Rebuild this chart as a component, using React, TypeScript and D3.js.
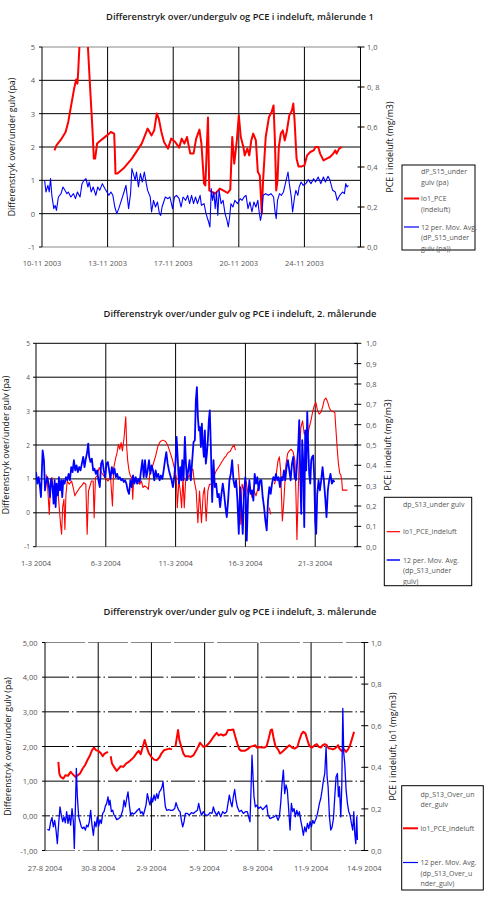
import * as d3 from "d3";
import React from "react";

type Pt = [number, number | null];

const FONT = "'Open Sans', 'DejaVu Sans', sans-serif";
const RED = "#ff0000";
const BLUE = "#0000ff";

// x positions are in "label intervals": 0 = first date label, 1 = second, ...

// ---- målerunde 1 ----
const r1Labels = ["10-11 2003", "13-11 2003", "17-11 2003", "20-11 2003", "24-11 2003"];
const r1RightTicks = [0, 0.2, 0.4, 0.6, 0.8, 1.0];
const r1RightText = ["0,0", "0,2", "0,4", "0,6", "0, 8", "1,0"];
// lo1_PCE (mg/m3)
const r1Pce: Pt[] = [
  [0.19, 0.483], [0.22, 0.508], [0.3, 0.542], [0.36, 0.575], [0.4, 0.625], [0.44, 0.7],
  [0.49, 0.792], [0.52, 0.837], [0.54, 0.817], [0.55, 0.867], [0.57, 1.0], [0.63, 1.15],
  [0.7, 1.0], [0.73, 0.817], [0.77, 0.583], [0.79, 0.442], [0.81, 0.442], [0.84, 0.517],
  [0.91, 0.537], [0.99, 0.558], [1.05, 0.575], [1.1, 0.567], [1.11, 0.483], [1.12, 0.367],
  [1.15, 0.367], [1.24, 0.392], [1.37, 0.442], [1.52, 0.517], [1.61, 0.592], [1.67, 0.558],
  [1.71, 0.583], [1.75, 0.667], [1.78, 0.642], [1.82, 0.575], [1.86, 0.525], [1.92, 0.492],
  [1.97, 0.542], [2.03, 0.525], [2.09, 0.497], [2.13, 0.542], [2.17, 0.517], [2.21, 0.55],
  [2.26, 0.467], [2.31, 0.467], [2.35, 0.542], [2.4, 0.587], [2.43, 0.517], [2.47, 0.317],
  [2.49, 0.308], [2.53, 0.647], [2.55, 0.283], [2.59, 0.275], [2.64, 0.267], [2.68, 0.28],
  [2.71, 0.292], [2.76, 0.283], [2.83, 0.27], [2.87, 0.287], [2.9, 0.55], [2.93, 0.417],
  [2.97, 0.533], [3.0, 0.658], [3.03, 0.55], [3.07, 0.5], [3.09, 0.458], [3.13, 0.492],
  [3.16, 0.458], [3.19, 0.533], [3.22, 0.567], [3.26, 0.533], [3.29, 0.375], [3.32, 0.358],
  [3.35, 0.167], [3.37, 0.333], [3.41, 0.55], [3.46, 0.65], [3.5, 0.675], [3.53, 0.708],
  [3.55, 0.533], [3.57, 0.283], [3.59, 0.333], [3.61, 0.5], [3.64, 0.567], [3.67, 0.583],
  [3.7, 0.533], [3.73, 0.575], [3.77, 0.658], [3.81, 0.683], [3.83, 0.717], [3.85, 0.633],
  [3.88, 0.442], [3.91, 0.403], [3.96, 0.403], [4.0, 0.408], [4.04, 0.458], [4.09, 0.475],
  [4.14, 0.483], [4.17, 0.5], [4.21, 0.5], [4.24, 0.467], [4.29, 0.433], [4.34, 0.442],
  [4.39, 0.45], [4.44, 0.467], [4.47, 0.483], [4.49, 0.467], [4.53, 0.492], [4.57, 0.5],
];
// 12 per. mov. avg. dP_S15 (pa)
const r1Dp: Pt[] = [
  [0.04, 1.0], [0.06, 0.65], [0.09, 0.85], [0.11, 0.65], [0.13, 1.05], [0.15, 0.55], [0.18, 0.15],
  [0.2, 0.25], [0.22, 0.1], [0.25, 0.5], [0.29, 0.6], [0.32, 0.8], [0.35, 0.7], [0.38, 0.6],
  [0.4, 0.65], [0.44, 0.5], [0.48, 0.6], [0.51, 0.45], [0.54, 0.65], [0.58, 0.5], [0.61, 0.9],
  [0.64, 1.0], [0.67, 1.05], [0.7, 0.8], [0.72, 0.95], [0.75, 0.65], [0.78, 0.8], [0.82, 0.55],
  [0.85, 0.8], [0.88, 0.7], [0.92, 0.9], [0.96, 0.75], [0.99, 0.65], [1.02, 0.55], [1.05, 0.65],
  [1.08, 0.55], [1.11, 0.2], [1.14, 0.0], [1.17, 0.15], [1.21, 0.4], [1.25, 0.65], [1.28, 0.85],
  [1.3, 0.5], [1.32, 0.15], [1.35, 0.6], [1.37, 1.35], [1.4, 1.15], [1.42, 1.0], [1.44, 1.25],
  [1.47, 0.8], [1.5, 1.2], [1.53, 0.95], [1.56, 1.25], [1.59, 0.9], [1.61, 0.7], [1.65, 0.5],
  [1.67, 0.05], [1.7, 0.4], [1.73, 0.2], [1.76, 0.35], [1.79, 0.0], [1.81, -0.05], [1.83, 0.2],
  [1.88, 0.5], [1.92, 0.45], [1.95, 0.5], [1.99, 0.15], [2.02, 0.5], [2.05, 0.55], [2.09, 0.45],
  [2.12, 0.2], [2.15, 0.5], [2.19, 0.4], [2.22, 0.55], [2.25, 0.3], [2.28, 0.55], [2.31, 0.3],
  [2.34, 0.5], [2.37, 0.3], [2.41, 0.55], [2.43, 0.25], [2.47, 0.3], [2.5, 0.0], [2.54, -0.25],
  [2.56, -0.4], [2.58, 0.75], [2.6, 0.4], [2.62, 0.65], [2.64, 0.15], [2.66, 0.65], [2.68, -0.05],
  [2.7, 0.7], [2.73, 0.3], [2.76, 0.4], [2.79, 0.0], [2.82, -0.2], [2.84, -0.4], [2.86, -0.1],
  [2.88, 0.3], [2.91, 0.2], [2.94, 0.4], [2.98, 0.3], [3.02, 0.45], [3.05, 0.4], [3.08, 0.5],
  [3.11, 0.55], [3.14, 0.15], [3.17, 0.35], [3.2, 0.05], [3.23, 0.35], [3.26, 0.2], [3.29, 0.4],
  [3.31, 0.05], [3.33, -0.2], [3.35, 0.0], [3.37, 0.55], [3.41, 0.6], [3.45, 0.55], [3.49, 0.6],
  [3.53, 0.5], [3.55, 0.1], [3.57, -0.15], [3.59, 0.4], [3.62, 0.6], [3.65, 0.55], [3.68, 0.65],
  [3.71, 0.9], [3.75, 1.25], [3.77, 0.9], [3.8, 0.5], [3.82, 0.05], [3.85, 0.5], [3.87, 0.7],
  [3.9, 0.55], [3.92, 0.8], [3.95, 0.95], [3.98, 0.85], [4.02, 0.9], [4.06, 1.02], [4.1, 0.9],
  [4.14, 1.05], [4.17, 0.95], [4.21, 1.1], [4.25, 0.9], [4.29, 1.1], [4.32, 0.95], [4.36, 1.12],
  [4.39, 1.0], [4.43, 0.7], [4.47, 0.65], [4.5, 0.4], [4.54, 0.55], [4.58, 0.65], [4.61, 0.6],
  [4.63, 0.9], [4.65, 0.8], [4.67, 0.85],
];

// ---- målerunde 2 ----
const r2Labels = ["1-3 2004", "6-3 2004", "11-3 2004", "16-3 2004", "21-3 2004"];
const r2RightTicks = [0, 0.1, 0.2, 0.3, 0.4, 0.5, 0.6, 0.7, 0.8, 0.9, 1.0];
const r2RightText = ["0,0", "0,1", "0,2", "0,3", "0,4", "0,5", "0,6", "0,7", "0,8", "0,9", "1,0"];
const r2Pce: Pt[] = [
  [0.143, 0.356], [0.162, 0.323], [0.19, 0.159], [0.21, 0.332], [0.229, 0.34], [0.248, 0.274],
  [0.271, 0.307], [0.295, 0.25], [0.314, 0.274], [0.333, 0.192], [0.352, 0.11], [0.367, 0.061],
  [0.381, 0.192], [0.4, 0.233], [0.414, 0.085], [0.429, 0.258], [0.448, 0.323], [0.476, 0.307],
  [0.51, 0.323], [0.533, 0.291], [0.557, 0.25], [0.581, 0.266], [0.629, 0.291], [0.652, 0.299],
  [0.686, 0.315], [0.714, 0.307], [0.733, 0.061], [0.752, 0.274], [0.795, 0.323], [0.819, 0.323],
  [0.833, 0.143], [0.852, 0.34], [0.876, 0.348], [0.905, 0.389], [0.938, 0.365], [0.986, 0.34],
  [1.033, 0.323], [1.067, 0.348], [1.095, 0.2], [1.114, 0.389], [1.143, 0.438], [1.162, 0.463],
  [1.181, 0.504], [1.2, 0.479], [1.219, 0.512], [1.238, 0.471], [1.262, 0.537], [1.286, 0.639],
  [1.3, 0.488], [1.314, 0.422], [1.333, 0.373], [1.352, 0.348], [1.371, 0.34], [1.386, 0.233],
  [1.4, 0.34], [1.429, 0.323], [1.462, 0.315], [1.486, 0.307], [1.51, 0.323], [1.533, 0.291],
  [1.557, 0.299], [1.59, 0.291], [1.61, 0.282], [1.629, 0.356], [1.657, 0.381], [1.686, 0.414],
  [1.714, 0.447], [1.748, 0.496], [1.781, 0.517], [1.819, 0.524], [1.857, 0.517], [1.89, 0.496],
  [1.914, 0.471], [1.952, 0.43], [1.986, 0.381], [2.01, 0.34], [2.024, 0.192], [2.048, 0.323],
  [2.067, 0.274], [2.086, 0.192], [2.105, 0.34], [2.124, 0.192], [2.143, 0.323], [2.162, 0.356],
  [2.19, 0.34], [2.224, 0.373], [2.248, 0.381], [2.267, 0.323], [2.295, 0.274], [2.319, 0.118],
  [2.343, 0.274], [2.371, 0.118], [2.395, 0.258], [2.414, 0.291], [2.438, 0.126], [2.462, 0.274],
  [2.486, 0.307], [2.51, 0.307], [2.543, 0.34], [2.581, 0.373], [2.619, 0.392], [2.657, 0.414],
  [2.695, 0.435], [2.724, 0.447], [2.752, 0.463], [2.781, 0.468], [2.81, 0.488], [2.838, 0.501],
  [2.857, 0.475], [2.876, null], [2.895, 0.406], [2.914, 0.323], [2.933, 0.11], [2.952, 0.307],
  [2.981, 0.274], [3.01, 0.323], [3.038, 0.258], [3.067, 0.291], [3.095, 0.241], [3.124, 0.274],
  [3.152, 0.25], [3.181, 0.291], [3.25, null], [3.343, 0.192], [3.362, 0.159], [3.39, null],
  [3.414, 0.307], [3.429, 0.323], [3.448, 0.373], [3.467, 0.422], [3.486, 0.442], [3.505, 0.373],
  [3.529, 0.126], [3.548, 0.209], [3.581, 0.406], [3.605, 0.458], [3.629, 0.471], [3.657, 0.479],
  [3.686, 0.463], [3.71, 0.422], [3.724, 0.258], [3.738, 0.036], [3.757, 0.274], [3.776, 0.488],
  [3.795, 0.586], [3.819, 0.619], [3.843, 0.553], [3.867, 0.57], [3.89, 0.537], [3.914, 0.586],
  [3.938, 0.619], [3.962, 0.66], [3.986, 0.693], [4.01, 0.709], [4.033, 0.668], [4.057, 0.652],
  [4.081, 0.66], [4.105, 0.685], [4.129, 0.721], [4.152, 0.731], [4.176, 0.714], [4.2, 0.685],
  [4.224, 0.668], [4.257, 0.665], [4.281, 0.66], [4.295, 0.586], [4.314, 0.488], [4.333, 0.406],
  [4.352, 0.36], [4.367, 0.353], [4.381, 0.323], [4.39, 0.278], [4.462, 0.278],
];
const r2Dp: Pt[] = [
  [0.0, 1.2], [0.019, 0.86], [0.038, 1.05], [0.057, 0.76], [0.071, 0.46], [0.086, 1.35],
  [0.095, 1.84], [0.114, 1.55], [0.129, 0.66], [0.143, 0.86], [0.162, 1.05], [0.181, 0.86],
  [0.2, 0.46], [0.219, 1.0], [0.238, 0.76], [0.252, 0.27], [0.267, 0.96], [0.281, 0.17],
  [0.295, 0.86], [0.314, 0.51], [0.329, 1.05], [0.343, 0.66], [0.362, 0.96], [0.376, 0.46],
  [0.39, 0.96], [0.41, 0.86], [0.429, 1.05], [0.448, 0.96], [0.467, 1.15], [0.486, 0.96],
  [0.505, 1.35], [0.524, 1.2], [0.543, 1.55], [0.562, 1.25], [0.581, 1.4], [0.6, 1.2],
  [0.619, 1.35], [0.638, 1.25], [0.657, 1.45], [0.676, 1.65], [0.695, 1.35], [0.714, 1.6],
  [0.733, 1.79], [0.748, 2.04], [0.762, 1.65], [0.781, 1.5], [0.8, 1.6], [0.819, 1.25],
  [0.838, 1.3], [0.857, 1.15], [0.876, 1.25], [0.895, 0.96], [0.914, 0.76], [0.933, 1.45],
  [0.952, 1.55], [0.971, 1.25], [0.99, 1.05], [1.01, 1.45], [1.029, 1.5], [1.048, 1.25],
  [1.067, 1.0], [1.086, 1.35], [1.105, 1.15], [1.124, 1.3], [1.143, 1.05], [1.162, 1.15],
  [1.181, 1.0], [1.2, 1.05], [1.219, 0.96], [1.238, 1.0], [1.257, 0.91], [1.276, 0.96],
  [1.295, 0.86], [1.314, 0.66], [1.333, 0.56], [1.352, 0.96], [1.371, 0.76], [1.39, 1.1],
  [1.41, 0.86], [1.429, 1.05], [1.448, 0.86], [1.467, 1.0], [1.486, 0.91], [1.505, 1.25],
  [1.524, 1.55], [1.543, 1.05], [1.562, 1.55], [1.581, 1.05], [1.6, 1.25], [1.619, 1.55],
  [1.638, 1.15], [1.657, 1.4], [1.676, 1.25], [1.695, 0.96], [1.714, 1.25], [1.733, 1.05],
  [1.752, 1.15], [1.771, 0.96], [1.79, 1.1], [1.81, 1.0], [1.829, 1.25], [1.848, 1.55],
  [1.867, 1.79], [1.886, 1.45], [1.905, 1.25], [1.924, 1.1], [1.943, 0.96], [1.962, 0.76],
  [1.981, 1.05], [2.0, 1.55], [2.014, 2.24], [2.029, 1.65], [2.048, 0.86], [2.067, 1.35],
  [2.081, 0.96], [2.095, 1.55], [2.114, 0.96], [2.133, 2.24], [2.148, 1.45], [2.162, 0.96],
  [2.181, 1.25], [2.2, 1.55], [2.219, 0.96], [2.238, 1.55], [2.257, 2.09], [2.276, 2.14],
  [2.29, 3.32], [2.305, 3.71], [2.319, 2.83], [2.333, 2.43], [2.348, 2.53], [2.362, 1.94],
  [2.376, 2.63], [2.39, 2.04], [2.405, 1.65], [2.419, 2.43], [2.433, 1.45], [2.448, 1.74],
  [2.462, 2.14], [2.476, 2.73], [2.49, 3.02], [2.505, 1.94], [2.524, 0.32], [2.543, 1.55],
  [2.562, 0.76], [2.581, 0.86], [2.6, 0.46], [2.619, 0.56], [2.638, 0.17], [2.657, 0.56],
  [2.676, 0.86], [2.695, 0.56], [2.714, 0.17], [2.733, -0.13], [2.752, 0.36], [2.771, 0.96],
  [2.79, 1.15], [2.81, 1.55], [2.829, 0.96], [2.848, 0.76], [2.867, 0.96], [2.886, 0.36],
  [2.905, -0.62], [2.924, 0.76], [2.943, 0.17], [2.962, -0.62], [2.981, 0.66], [3.0, 1.05],
  [3.019, -0.82], [3.038, 0.46], [3.057, 0.96], [3.076, 0.56], [3.095, 0.66], [3.114, 0.36],
  [3.133, 1.15], [3.152, 0.86], [3.171, 1.05], [3.19, 0.66], [3.21, 0.96], [3.229, 0.96],
  [3.248, 0.46], [3.267, 0.17], [3.286, -0.23], [3.305, -0.52], [3.324, 0.36], [3.343, 0.76],
  [3.362, 0.56], [3.381, 0.86], [3.4, 1.05], [3.419, 0.96], [3.438, 1.15], [3.457, 0.96],
  [3.476, 1.05], [3.495, 0.76], [3.514, 1.05], [3.533, 0.96], [3.552, 1.25], [3.571, 0.96],
  [3.59, 1.35], [3.61, 1.55], [3.629, 1.25], [3.648, 0.96], [3.667, 1.45], [3.686, 1.65],
  [3.705, 1.05], [3.724, 0.96], [3.743, 1.55], [3.757, 1.94], [3.771, 2.73], [3.786, 1.15],
  [3.8, -0.03], [3.814, 2.14], [3.829, 1.45], [3.843, -0.42], [3.857, 2.43], [3.871, 1.25],
  [3.886, 2.98], [3.9, 1.94], [3.914, 1.15], [3.929, 0.86], [3.943, 1.55], [3.957, 1.65],
  [3.971, 1.69], [3.986, 1.05], [4.0, -0.23], [4.014, -0.62], [4.029, 0.56], [4.048, 0.96],
  [4.067, 0.66], [4.086, 0.96], [4.105, 1.35], [4.124, 0.96], [4.143, 0.46], [4.162, -0.13],
  [4.181, 0.66], [4.2, 0.96], [4.219, 1.15], [4.238, 0.86], [4.257, 0.96], [4.276, 0.91],
];

// ---- målerunde 3 ----
const r3Labels = ["27-8 2004", "30-8 2004", "2-9 2004", "5-9 2004", "8-9 2004", "11-9 2004", "14-9 2004"];
const r3RightTicks = [0, 0.2, 0.4, 0.6, 0.8, 1.0];
const r3RightText = ["0,0", "0,2", "0,4", "0,6", "0,8", "1,0"];
const r3Pce: Pt[] = [
  [0.251, 0.426], [0.269, 0.37], [0.294, 0.354], [0.345, 0.346], [0.382, 0.362], [0.432, 0.359],
  [0.482, 0.378], [0.52, 0.367], [0.57, 0.354], [0.608, 0.36], [0.658, 0.37], [0.708, 0.394],
  [0.752, 0.41], [0.796, 0.434], [0.846, 0.458], [0.883, 0.482], [0.921, 0.495], [0.959, 0.482],
  [1.003, 0.479], [1.046, 0.469], [1.084, 0.453], [1.109, 0.463], [1.147, 0.469], [1.184, 0.474],
  [1.21, null], [1.234, 0.453], [1.259, 0.418], [1.297, 0.402], [1.347, 0.383], [1.385, 0.394],
  [1.422, 0.405], [1.472, 0.402], [1.523, 0.418], [1.573, 0.426], [1.623, 0.437], [1.673, 0.45],
  [1.723, 0.469], [1.761, 0.479], [1.798, 0.463], [1.836, 0.498], [1.873, 0.531], [1.911, 0.498],
  [1.949, 0.469], [1.999, 0.45], [2.049, 0.437], [2.099, 0.434], [2.149, 0.447], [2.187, 0.466],
  [2.237, 0.482], [2.287, 0.486], [2.337, 0.49], [2.387, 0.486], [2.42, null], [2.45, 0.498],
  [2.475, 0.539], [2.5, 0.579], [2.525, 0.531], [2.563, 0.498], [2.6, 0.466], [2.638, 0.453],
  [2.688, 0.453], [2.738, 0.45], [2.788, 0.457], [2.838, 0.479], [2.876, 0.498], [2.914, 0.518],
  [2.951, 0.506], [2.976, 0.498], [3.026, 0.502], [3.076, 0.514], [3.126, 0.531], [3.176, 0.55],
  [3.226, 0.566], [3.263, 0.553], [3.301, 0.559], [3.351, 0.553], [3.401, 0.559], [3.439, 0.579],
  [3.489, 0.579], [3.539, 0.582], [3.576, 0.547], [3.614, 0.514], [3.652, 0.486], [3.689, 0.479],
  [3.752, 0.479], [3.802, 0.486], [3.852, 0.498], [3.902, 0.502], [3.952, 0.506], [3.977, 0.495],
  [4.028, 0.498], [4.078, 0.495], [4.128, 0.495], [4.166, 0.502], [4.204, 0.539], [4.241, 0.579],
  [4.266, 0.582], [4.291, 0.547], [4.329, 0.502], [4.379, 0.486], [4.417, 0.466], [4.454, 0.474],
  [4.504, 0.486], [4.555, 0.498], [4.592, 0.506], [4.642, 0.495], [4.692, 0.49], [4.742, 0.498],
  [4.78, 0.531], [4.818, 0.559], [4.855, 0.571], [4.893, 0.563], [4.931, 0.531], [4.968, 0.502],
  [5.019, 0.495], [5.069, 0.506], [5.106, 0.511], [5.144, 0.498], [5.182, 0.495], [5.219, 0.506],
  [5.257, 0.511], [5.294, 0.506], [5.332, 0.49], [5.37, 0.49], [5.407, 0.486], [5.445, 0.49],
  [5.482, 0.498], [5.508, 0.506], [5.533, 0.49], [5.57, 0.479], [5.62, 0.486], [5.658, 0.474],
  [5.695, 0.486], [5.733, 0.506], [5.771, 0.539], [5.808, 0.571],
];
const r3Dp: Pt[] = [
  [0.044, -0.39], [0.081, -0.41], [0.107, -0.17], [0.132, -0.05], [0.157, -0.32], [0.182, -0.13],
  [0.207, -0.41], [0.232, -0.8], [0.257, -0.22], [0.282, 0.26], [0.307, 0.02], [0.332, -0.17],
  [0.357, -0.03], [0.382, -0.2], [0.407, 0.12], [0.432, -0.22], [0.457, 0.02], [0.482, -0.27],
  [0.508, 0.21], [0.533, -0.17], [0.551, -0.94], [0.57, 0.16], [0.589, 1.37], [0.608, 0.55],
  [0.633, -0.03], [0.658, -0.17], [0.683, -0.32], [0.708, -0.37], [0.733, -0.32], [0.758, -0.41],
  [0.783, -0.27], [0.808, -0.32], [0.833, -0.17], [0.858, 0.16], [0.883, -0.27], [0.909, -0.56],
  [0.934, -0.17], [0.959, -0.32], [0.984, -0.03], [1.009, -0.3], [1.034, -0.11], [1.059, -0.22],
  [1.084, 0.07], [1.109, 0.12], [1.134, 0.28], [1.159, 0.36], [1.184, 0.55], [1.203, 0.31],
  [1.222, 0.45], [1.247, 0.12], [1.272, 0.16], [1.297, 0.02], [1.322, -0.03], [1.347, -0.11],
  [1.385, -0.08], [1.422, -0.03], [1.46, 0.16], [1.485, 0.45], [1.51, 0.26], [1.535, 0.5],
  [1.56, 0.69], [1.585, 0.31], [1.61, 0.02], [1.636, 0.09], [1.661, 0.05], [1.698, 0.09],
  [1.736, 0.16], [1.773, 0.21], [1.798, 0.07], [1.823, 0.12], [1.848, 0.02], [1.873, 0.16],
  [1.898, 0.31], [1.924, 0.64], [1.949, 0.45], [1.974, 0.31], [1.999, 0.55], [2.024, 0.4],
  [2.049, 0.6], [2.074, 0.45], [2.099, 0.64], [2.124, 0.5], [2.149, 0.69], [2.174, 0.74],
  [2.199, 0.84], [2.218, 0.98], [2.237, 0.64], [2.262, 0.26], [2.287, 0.16], [2.325, 0.18],
  [2.362, 0.16], [2.4, 0.16], [2.437, 0.21], [2.462, 0.38], [2.487, 0.26], [2.513, 0.16],
  [2.538, 0.12], [2.563, -0.13], [2.588, -0.32], [2.613, -0.17], [2.638, 0.07], [2.675, 0.07],
  [2.713, 0.02], [2.75, 0.09], [2.788, 0.07], [2.826, 0.12], [2.863, 0.16], [2.888, 0.36],
  [2.914, 0.16], [2.939, 0.02], [2.976, 0.12], [3.014, 0.02], [3.064, 0.02], [3.101, 0.09],
  [3.139, 0.07], [3.164, 0.26], [3.189, 0.12], [3.226, 0.02], [3.263, 0.12], [3.301, -0.03],
  [3.339, 0.12], [3.376, 0.07], [3.414, 0.12], [3.439, 0.36], [3.464, 0.6], [3.489, 0.4],
  [3.514, 0.26], [3.539, 0.55], [3.564, 0.76], [3.589, 0.45], [3.614, 0.26], [3.652, 0.12],
  [3.689, 0.16], [3.727, 0.07], [3.764, 0.12], [3.802, 0.12], [3.827, -0.03], [3.852, -0.17],
  [3.871, 0.74], [3.89, 1.75], [3.909, 1.13], [3.927, 0.55], [3.952, 0.26], [3.977, 0.31],
  [4.015, 0.21], [4.053, 0.26], [4.091, 0.18], [4.128, 0.24], [4.166, 0.31], [4.191, 0.02],
  [4.229, -0.08], [4.266, -0.05], [4.304, -0.03], [4.342, 0.02], [4.379, -0.13], [4.404, -0.03],
  [4.429, 0.36], [4.454, 0.93], [4.479, 1.32], [4.504, 0.64], [4.529, 0.89], [4.554, 0.74],
  [4.58, 0.16], [4.605, -0.41], [4.63, 0.36], [4.655, 0.12], [4.68, 0.21], [4.705, -0.03],
  [4.73, 0.16], [4.755, 0.02], [4.78, 0.12], [4.805, -0.13], [4.83, -0.32], [4.855, -0.56],
  [4.881, -0.32], [4.906, -0.46], [4.931, -0.22], [4.956, -0.37], [4.981, -0.17], [5.006, -0.32],
  [5.031, -0.13], [5.056, -0.22], [5.081, -0.13], [5.106, -0.03], [5.132, 0.16], [5.157, 0.36],
  [5.182, 0.5], [5.207, 0.74], [5.232, 1.03], [5.257, 1.22], [5.282, 1.99], [5.301, 1.13],
  [5.32, 0.84], [5.345, -0.03], [5.37, -0.41], [5.395, -0.32], [5.42, -0.08], [5.445, 0.55],
  [5.47, 1.13], [5.495, 1.22], [5.514, 0.55], [5.533, 0.84], [5.558, -0.03], [5.577, 0.84],
  [5.596, 3.1], [5.614, 1.8], [5.633, 1.51], [5.658, 0.74], [5.683, 0.36], [5.708, 0.12],
  [5.733, 0.02], [5.758, -0.22], [5.783, -0.41], [5.802, 0.12], [5.821, -0.51], [5.84, -0.8],
  [5.858, -0.03], [5.871, -0.7],
];

const leftTicks = [-1, 0, 1, 2, 3, 4, 5];

interface Frame {
  left: number;
  right: number;
  top: number;
  bottom: number;
}

interface LegendItem {
  color: string | null;
  width: number;
  lines: string[];
  y: number;
}

interface PanelProps {
  id: string;
  title: string;
  titleY: number;
  frame: Frame;
  tEnd: number;
  xLabels: string[];
  xLabelY: number;
  leftFormat: (v: number) => string;
  leftLabelX: number;
  leftFont: number;
  rightTicks: number[];
  rightText: string[];
  rightLabelX: number;
  leftTitle: string;
  leftTitleX: number;
  rightTitle: string;
  rightTitleX: number;
  pce: Pt[];
  dp: Pt[];
  pceWidth: number;
  dpWidth: number;
  topColor: string;
  dashed: boolean;
  legendBox: Frame;
  legendLineX: [number, number];
  legendTextX: number;
  legend: LegendItem[];
}

const Panel = (p: PanelProps) => {
  const f = p.frame;
  const x = d3.scaleLinear().domain([0, p.tEnd]).range([f.left, f.right]);
  const yL = d3.scaleLinear().domain([-1, 5]).range([f.bottom, f.top]);
  const yR = d3.scaleLinear().domain([0, 1]).range([f.bottom, f.top]);
  const dpLine = d3
    .line<Pt>()
    .defined((d) => d[1] !== null)
    .x((d) => x(d[0]))
    .y((d) => yL(d[1] as number));
  const pceLine = d3
    .line<Pt>()
    .defined((d) => d[1] !== null)
    .x((d) => x(d[0]))
    .y((d) => yR(d[1] as number));
  const cy = (f.top + f.bottom) / 2;
  const hDash = p.dashed ? "24,3,1.5,3" : undefined;

  return (
    <g>
      <defs>
        <clipPath id={`clip-${p.id}`}>
          <rect x={f.left} y={f.top} width={f.right - f.left} height={f.bottom - f.top} />
        </clipPath>
      </defs>
      <text x={240} y={p.titleY} textAnchor="middle" fontSize={9.3} fontWeight={600} fill="#1a1a1a">
        {p.title}
      </text>

      {/* horizontal grid */}
      {[0, 1, 2, 3, 4].map((v) => (
        <line
          key={`h${v}`}
          x1={f.left}
          x2={f.right}
          y1={yL(v)}
          y2={yL(v)}
          stroke="#000"
          strokeWidth={1}
          strokeDasharray={p.dashed && v === 0 ? "5,2,1.5,2" : hDash}
        />
      ))}
      <line x1={f.left} x2={f.right} y1={f.top} y2={f.top} stroke={p.topColor} strokeWidth={1}
        strokeDasharray={p.dashed ? "40,3" : undefined} />
      <line x1={f.left} x2={f.right} y1={f.bottom} y2={f.bottom} stroke="#888" strokeWidth={1}
        strokeDasharray={p.dashed ? "30,3,2,3" : undefined} />

      {/* vertical grid */}
      {p.xLabels.map((_, i) =>
        i > 0 && x(i) < f.right - 2 ? (
          <line key={`v${i}`} x1={x(i)} x2={x(i)} y1={f.top} y2={f.bottom} stroke="#000" strokeWidth={1} />
        ) : null
      )}
      <line x1={f.left} x2={f.left} y1={f.top} y2={f.bottom} stroke="#000" strokeWidth={1} />
      <line x1={f.right} x2={f.right} y1={f.top} y2={f.bottom} stroke="#000" strokeWidth={1} />

      {/* left axis */}
      {leftTicks.map((v) => (
        <g key={`l${v}`}>
          <line x1={f.left - 3} x2={f.left} y1={yL(v)} y2={yL(v)} stroke="#000" strokeWidth={1} />
          <text x={p.leftLabelX} y={yL(v)} textAnchor="end" dominantBaseline="central" fontSize={p.leftFont} fill="#555">
            {p.leftFormat(v)}
          </text>
        </g>
      ))}
      {/* right axis */}
      {p.rightTicks.map((v, i) => (
        <g key={`r${v}`}>
          <line x1={f.right - 3} x2={f.right + 4} y1={yR(v)} y2={yR(v)} stroke="#000" strokeWidth={1} />
          <text x={p.rightLabelX} y={yR(v)} dominantBaseline="central" fontSize={7.5} fill="#555">
            {p.rightText[i]}
          </text>
        </g>
      ))}
      {/* x labels */}
      {p.xLabels.map((s, i) => (
        <text key={`x${i}`} x={x(i)} y={p.xLabelY} textAnchor="middle" fontSize={7.5} fill="#555">
          {s}
        </text>
      ))}

      <text transform={`translate(${p.leftTitleX},${cy}) rotate(-90)`} textAnchor="middle" dominantBaseline="central" fontSize={8.8} fill="#111">
        {p.leftTitle}
      </text>
      <text transform={`translate(${p.rightTitleX},${cy}) rotate(-90)`} textAnchor="middle" dominantBaseline="central" fontSize={8.8} fill="#111">
        {p.rightTitle}
      </text>

      {/* series */}
      <g clipPath={`url(#clip-${p.id})`}>
        <path d={pceLine(p.pce) ?? ""} fill="none" stroke={RED} strokeWidth={p.pceWidth} strokeLinejoin="round" />
        <path d={dpLine(p.dp) ?? ""} fill="none" stroke={BLUE} strokeWidth={p.dpWidth} strokeLinejoin="round" />
      </g>

      {/* legend */}
      <rect
        x={p.legendBox.left}
        y={p.legendBox.top}
        width={p.legendBox.right - p.legendBox.left}
        height={p.legendBox.bottom - p.legendBox.top}
        fill="#fff"
        stroke="#000"
        strokeWidth={1}
      />
      {p.legend.map((it, i) => (
        <g key={`lg${i}`}>
          {it.color ? (
            <line x1={p.legendLineX[0]} x2={p.legendLineX[1]} y1={it.y} y2={it.y} stroke={it.color} strokeWidth={it.width} />
          ) : null}
          {it.lines.map((s, j) => (
            <text key={j} x={p.legendTextX} y={it.y + j * 10.5} dominantBaseline="central" fontSize={7} fill="#555">
              {s}
            </text>
          ))}
        </g>
      ))}
    </g>
  );
};

const App = () => {
  const intFmt = (v: number) => `${v}`;
  const decFmt = (v: number) => (v < 0 ? "-" : "") + Math.abs(v).toFixed(2).replace(".", ",");
  return (
    <svg
      width={485}
      height={899}
      style={{ position: "absolute", left: 0, top: 0, background: "#fff", fontFamily: FONT }}
    >
      <rect x={0} y={0} width={485} height={899} fill="#fff" />
      <Panel
        id="p1"
        title="Differenstryk over/undergulv og PCE i indeluft, målerunde 1"
        titleY={20}
        frame={{ left: 42, right: 360.5, top: 47, bottom: 247 }}
        tEnd={4.855}
        xLabels={r1Labels}
        xLabelY={266}
        leftFormat={intFmt}
        leftLabelX={35}
        leftFont={7.5}
        rightTicks={r1RightTicks}
        rightText={r1RightText}
        rightLabelX={367}
        leftTitle="Differenstryk over/under gulv (pa)"
        leftTitleX={12}
        rightTitle="PCE i indeluft (mg/m3)"
        rightTitleX={390}
        pce={r1Pce}
        dp={r1Dp}
        pceWidth={2}
        dpWidth={1.1}
        topColor="#888"
        dashed={false}
        legendBox={{ left: 402, right: 475, top: 165, bottom: 250 }}
        legendLineX={[404, 419]}
        legendTextX={421}
        legend={[
          { color: null, width: 0, lines: ["dP_S15_under", "gulv (pa)"], y: 171.5 },
          { color: RED, width: 2, lines: ["lo1_PCE", "(indeluft)"], y: 198.5 },
          { color: BLUE, width: 1.2, lines: ["12 per. Mov. Avg.", "(dP_S15_under", "gulv (pa))"], y: 227 },
        ]}
      />
      <Panel
        id="p2"
        title="Differenstryk over/under gulv og PCE i indeluft, 2. målerunde"
        titleY={317}
        frame={{ left: 36, right: 357.3, top: 343.3, bottom: 546.7 }}
        tEnd={4.603}
        xLabels={r2Labels}
        xLabelY={566}
        leftFormat={intFmt}
        leftLabelX={30}
        leftFont={6.5}
        rightTicks={r2RightTicks}
        rightText={r2RightText}
        rightLabelX={366}
        leftTitle="Differenstryk over/under gulv (pa)"
        leftTitleX={6}
        rightTitle="PCE i indeluft (mg/m3)"
        rightTitleX={388}
        pce={r2Pce}
        dp={r2Dp}
        pceWidth={1.1}
        dpWidth={1.8}
        topColor="#000"
        dashed={false}
        legendBox={{ left: 384.3, right: 471.7, top: 497.3, bottom: 585.7 }}
        legendLineX={[386.7, 400]}
        legendTextX={403}
        legend={[
          { color: null, width: 0, lines: ["dp_S13_under gulv"], y: 504 },
          { color: RED, width: 1.2, lines: ["lo1_PCE_indeluft"], y: 531.7 },
          { color: BLUE, width: 1.5, lines: ["12 per. Mov. Avg.", "(dp_S13_under", "gulv)"], y: 560 },
        ]}
      />
      <Panel
        id="p3"
        title="Differenstryk over/under gulv og PCE i indeluft, 3. målerunde"
        titleY={615}
        frame={{ left: 45, right: 364.3, top: 642.5, bottom: 850.5 }}
        tEnd={6}
        xLabels={r3Labels}
        xLabelY={871}
        leftFormat={decFmt}
        leftLabelX={37.5}
        leftFont={7.5}
        rightTicks={r3RightTicks}
        rightText={r3RightText}
        rightLabelX={371}
        leftTitle="Differenstryk over/under gulv (pa)"
        leftTitleX={7.5}
        rightTitle="PCE i indeluft, lo1 (mg/m3)"
        rightTitleX={393}
        pce={r3Pce}
        dp={r3Dp}
        pceWidth={2}
        dpWidth={1.3}
        topColor="#888"
        dashed={true}
        legendBox={{ left: 401.7, right: 483.3, top: 785.7, bottom: 890 }}
        legendLineX={[403, 418]}
        legendTextX={420.5}
        legend={[
          { color: null, width: 0, lines: ["dp_S13_Over_un", "der_gulv"], y: 794.3 },
          { color: RED, width: 2, lines: ["lo1_PCE_indeluft"], y: 828.3 },
          { color: BLUE, width: 1.2, lines: ["12 per. Mov. Avg.", "(dp_S13_Over_u", "nder_gulv)"], y: 862.5 },
        ]}
      />
    </svg>
  );
};

export default App;
